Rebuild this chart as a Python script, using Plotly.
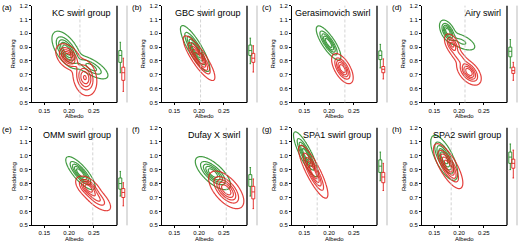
import numpy as np
import plotly.graph_objects as go

W, H = 520, 242

panel_labels = ["(a)", "(b)", "(c)", "(d)", "(e)", "(f)", "(g)", "(h)"]
panel_titles = ["KC swirl group", "GBC swirl group", "Gerasimovich swirl", "Airy swirl",
                "OMM swirl group", "Dufay X swirl", "SPA1 swirl group", "SPA2 swirl group"]
albedo_threshold = [0.222, 0.203, 0.232, 0.212, 0.248, 0.255, 0.176, 0.184]

# density components: (mean albedo, mean reddening, sd albedo, sd reddening, corr, weight)
green_components = [
    [(0.195, 0.880, 0.0125, 0.057, -0.60, 1.0), (0.245, 0.755, 0.016, 0.040, -0.70, 0.55)],
    [(0.192, 0.890, 0.0125, 0.070, -0.85, 1.0)],
    [(0.199, 0.930, 0.0105, 0.052, -0.80, 1.0)],
    [(0.177, 1.015, 0.0070, 0.034, -0.50, 1.0), (0.205, 0.940, 0.015, 0.034, -0.60, 0.30)],
    [(0.223, 0.875, 0.0125, 0.050, -0.80, 1.0)],
    [(0.228, 0.875, 0.0150, 0.050, -0.70, 1.0)],
    [(0.153, 1.010, 0.0105, 0.068, -0.85, 1.0)],
    [(0.170, 0.985, 0.0115, 0.068, -0.70, 1.0)],
]
red_components = [
    [(0.198, 0.830, 0.0105, 0.040, -0.40, 1.0), (0.232, 0.680, 0.0105, 0.057, -0.20, 0.85)],
    [(0.200, 0.820, 0.0135, 0.068, -0.85, 1.0)],
    [(0.227, 0.745, 0.0092, 0.046, -0.60, 1.0)],
    [(0.186, 0.920, 0.0070, 0.034, -0.50, 0.7), (0.220, 0.720, 0.0105, 0.040, -0.50, 1.0),
     (0.200, 0.830, 0.0090, 0.034, -0.70, 0.35)],
    [(0.238, 0.775, 0.0105, 0.034, -0.50, 1.0), (0.255, 0.700, 0.014, 0.046, -0.70, 0.6)],
    [(0.255, 0.755, 0.0150, 0.057, -0.60, 1.0)],
    [(0.168, 0.885, 0.0125, 0.080, -0.85, 1.0)],
    [(0.178, 0.925, 0.0125, 0.068, -0.75, 1.0)],
]
# box stats: lower whisker, q1, median, q3, upper whisker
green_box = [
    (0.715, 0.79, 0.84, 0.875, 0.935), (0.78, 0.84, 0.875, 0.915, 0.965),
    (0.75, 0.81, 0.84, 0.873, 0.92), (0.75, 0.83, 0.87, 0.90, 0.955),
    (0.71, 0.76, 0.80, 0.84, 0.887), (0.71, 0.78, 0.83, 0.864, 0.915),
    (0.82, 0.88, 0.925, 0.97, 1.026), (0.90, 0.945, 0.99, 1.026, 1.084),
]
red_box = [
    (0.58, 0.66, 0.715, 0.755, 0.82), (0.72, 0.79, 0.82, 0.855, 0.91),
    (0.67, 0.715, 0.74, 0.76, 0.815), (0.66, 0.71, 0.73, 0.755, 0.79),
    (0.64, 0.70, 0.736, 0.764, 0.806), (0.62, 0.69, 0.74, 0.78, 0.833),
    (0.75, 0.806, 0.847, 0.88, 0.945), (0.84, 0.91, 0.945, 0.975, 1.04),
]

GREEN = "#228b22"
RED = "#e0201c"
XRANGE = [0.125, 0.297]
YRANGE = [0.5, 1.2]
y_ticks = [0.5, 0.6, 0.7, 0.8, 0.9, 1.0, 1.1, 1.2]
x_ticks = [0.15, 0.20, 0.25]

xs = np.linspace(0.11, 0.31, 201)
ys = np.linspace(0.40, 1.30, 181)
XX, YY = np.meshgrid(xs, ys)


def density(comps):
    z = np.zeros_like(XX)
    for mx, my, sx, sy, r, w in comps:
        dx = (XX - mx) / sx
        dy = (YY - my) / sy
        q = (dx * dx - 2 * r * dx * dy + dy * dy) / (1 - r * r)
        z += w * np.exp(-0.5 * q)
    return z / z.max()


def sfx(n):
    return "" if n == 1 else str(n)


fig = go.Figure()
layout = dict(width=W, height=H, margin=dict(l=0, r=0, t=0, b=0),
              paper_bgcolor="white", plot_bgcolor="white", showlegend=False,
              font=dict(family="Liberation Sans, Arial, sans-serif", color="black"))
shapes = []
annotations = []

rows_px = [(2.7, 102.0), (128.0, 228.0)]
FS = 6

for i in range(8):
    r, c = divmod(i, 4)
    top, bot = rows_px[r]
    x0 = 32 + 130 * c
    x1 = 117 + 130 * c
    x2 = 127 + 130 * c
    yd = [1 - bot / H, 1 - top / H]
    m = sfx(i + 1)
    b = sfx(i + 9)
    layout[f"xaxis{m}"] = dict(domain=[x0 / W, x1 / W], range=XRANGE, anchor=f"y{m}",
                               tickvals=x_ticks, ticktext=["0.15", "0.20", "0.25"],
                               ticks="outside", ticklen=2, tickwidth=0.8, tickcolor="black",
                               showline=True, linecolor="black", linewidth=0.8,
                               showgrid=False, zeroline=False, tickfont=dict(size=FS))
    layout[f"yaxis{m}"] = dict(domain=yd, range=YRANGE, anchor=f"x{m}",
                               tickvals=y_ticks, ticktext=[f"{v:.1f}" for v in y_ticks],
                               ticks="outside", ticklen=2, tickwidth=0.8, tickcolor="black",
                               showline=True, linecolor="black", linewidth=0.8,
                               showgrid=False, zeroline=False, tickfont=dict(size=FS))
    layout[f"xaxis{b}"] = dict(domain=[x1 / W, x2 / W], range=[0, 10], anchor=f"y{b}",
                               visible=False)
    layout[f"yaxis{b}"] = dict(domain=yd, range=YRANGE, anchor=f"x{b}", visible=False)

    for comps, col in ((green_components[i], GREEN), (red_components[i], RED)):
        fig.add_trace(go.Contour(
            x=xs, y=ys, z=density(comps), xaxis=f"x{m}", yaxis=f"y{m}",
            contours=dict(coloring="lines", start=0.06, end=0.9, size=0.19),
            colorscale=[[0, col], [1, col]], showscale=False,
            line=dict(width=1.2), opacity=0.85, hoverinfo="skip"))

    for stats, col, pos in ((green_box[i], GREEN, 3.3), (red_box[i], RED, 6.3)):
        lo, q1, med, q3, hi = stats
        fig.add_trace(go.Box(
            x=[pos], q1=[q1], median=[med], q3=[q3], lowerfence=[lo], upperfence=[hi],
            width=3.0, whiskerwidth=0.5, line=dict(color=col, width=0.9),
            fillcolor="rgba(255,255,255,0)", xaxis=f"x{b}", yaxis=f"y{b}",
            boxpoints=False, hoverinfo="skip"))

    shapes.append(dict(type="line", xref=f"x{m}", yref=f"y{m} domain",
                       x0=albedo_threshold[i], x1=albedo_threshold[i], y0=0, y1=1,
                       line=dict(color="#c8c8c8", width=0.8, dash="3px,2px")))
    shapes.append(dict(type="line", xref="paper", yref="paper", x0=x1 / W, x1=x1 / W,
                       y0=yd[0], y1=yd[1], line=dict(color="black", width=1.3)))
    shapes.append(dict(type="line", xref="paper", yref="paper", x0=x2 / W, x1=x2 / W,
                       y0=yd[0], y1=yd[1], line=dict(color="#aaaaaa", width=0.8)))

    annotations.append(dict(text=panel_titles[i], xref="paper", yref="paper",
                            x=(x1 - 4) / W, y=1 - (top + 7.5) / H, xanchor="right",
                            yanchor="middle", showarrow=False, font=dict(size=9)))
    annotations.append(dict(text=panel_labels[i], xref="paper", yref="paper",
                            x=(130 * c) / W, y=1 - (top + 2) / H, xanchor="left",
                            yanchor="middle", showarrow=False, font=dict(size=8)))
    annotations.append(dict(text="Albedo", xref="paper", yref="paper",
                            x=((x0 + x1) / 2) / W, y=1 - (bot + 13.5) / H, xanchor="center",
                            yanchor="middle", showarrow=False, font=dict(size=FS)))
    annotations.append(dict(text="Reddening", xref="paper", yref="paper",
                            x=(130 * c + 13.5) / W, y=1 - ((top + bot) / 2) / H,
                            xanchor="center", yanchor="middle", textangle=-90,
                            showarrow=False, font=dict(size=FS)))

layout["shapes"] = shapes
layout["annotations"] = annotations
fig.update_layout(**layout)
fig.write_html("out.html", config={"displayModeBar": False},
               post_script="document.body.style.margin='0';document.body.style.padding='0';")
